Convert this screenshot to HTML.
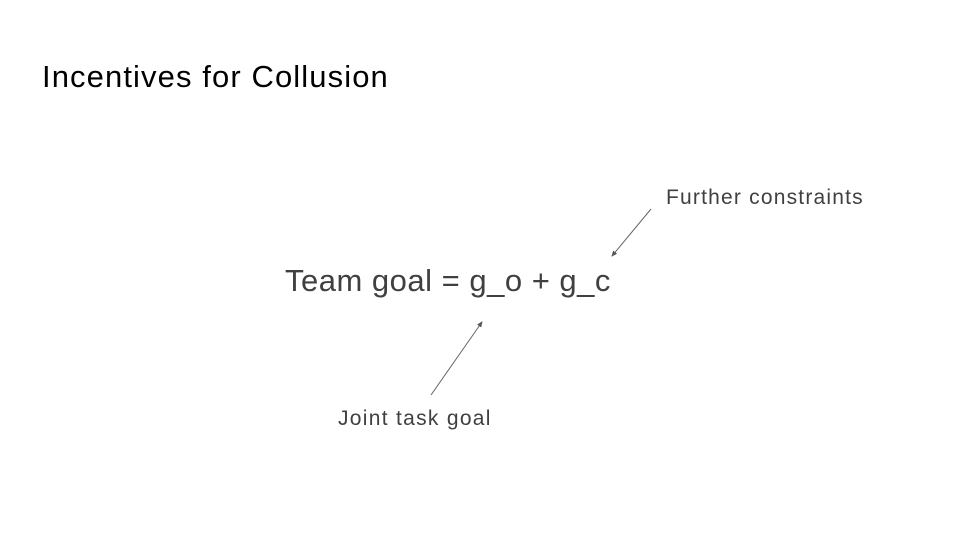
<!DOCTYPE html>
<html><head><style>
body{margin:0;width:960px;height:540px;background:#fff;position:relative;overflow:hidden;font-family:"Liberation Sans",Arial,sans-serif}
.t{position:absolute;white-space:nowrap;line-height:1}
</style></head><body>
<div class="t" style="left:42px;top:61px;font-size:31px;letter-spacing:1.1px;color:#000">Incentives for Collusion</div>
<div class="t" style="left:285px;top:265px;font-size:31px;letter-spacing:0.5px;color:#404040">Team goal = g_o + g_c</div>
<div class="t" style="left:666px;top:187px;font-size:21px;letter-spacing:1.2px;color:#404040">Further constraints</div>
<div class="t" style="left:338px;top:408px;font-size:21px;letter-spacing:1.3px;color:#404040">Joint task goal</div>
<svg width="960" height="540" style="position:absolute;left:0;top:0">
<defs><marker id="a" markerWidth="6" markerHeight="6" refX="5" refY="3" orient="auto"><path d="M0,0.5 L6,3 L0,5.5z" fill="#555"/></marker></defs>
<line x1="651" y1="209" x2="612" y2="256" stroke="#666" stroke-width="1" marker-end="url(#a)"/>
<line x1="431" y1="395" x2="482" y2="322" stroke="#666" stroke-width="1" marker-end="url(#a)"/>
</svg>
</body></html>
